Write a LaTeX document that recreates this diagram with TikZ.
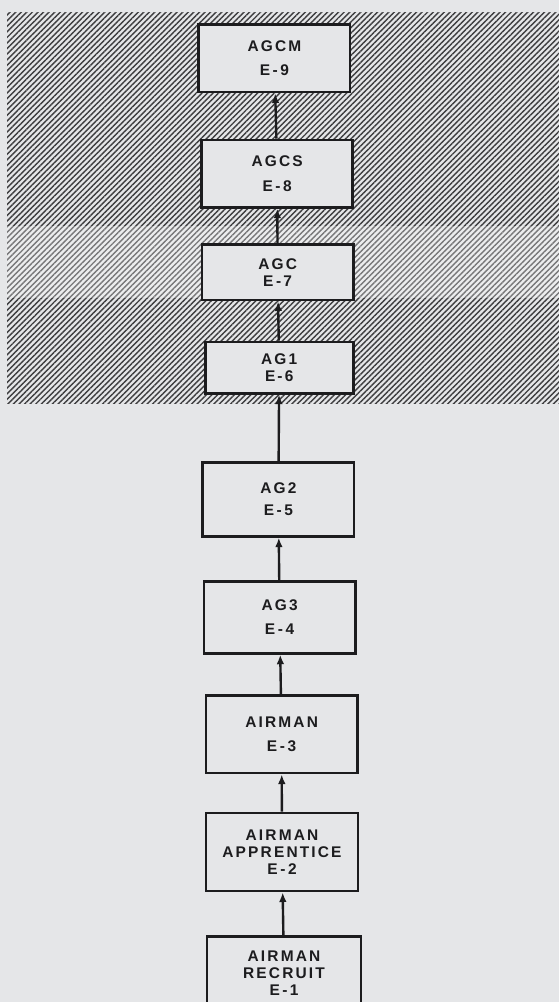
\documentclass[tikz,border=0pt]{standalone}
\usepackage{fontspec}
\newfontfamily\lettering[LetterSpace=14]{Liberation Sans}
\usetikzlibrary{positioning, arrows.meta, patterns.meta}

\definecolor{paper}{RGB}{229,230,232}
\definecolor{ink}{RGB}{28,28,30}

\tikzset{
    rate/.style={draw=ink, line width=2pt, fill=paper, align=center,
        minimum width=3.78cm, minimum height=1.68cm, inner sep=2pt,
        font=\lettering\bfseries\fontsize{11}{12.3}\selectfont, text=ink},
    promo/.style={-{Latex[length=2.4mm, width=1.9mm]}, line width=1.7pt, draw=ink}
}

\begin{document}
\begin{tikzpicture}

    \useasboundingbox (0,0) rectangle (13.975,-25.05);
    \clip (0,0) rectangle (13.975,-25.05);

    % Sheet
    \fill[paper] (0,0) rectangle (13.975,-25.05);

    % Hatched upper part
    \fill[pattern={Lines[angle=45, distance=2.8pt, line width=1pt]},
          pattern color=ink!85] (0.18,-0.30) rectangle (13.975,-10.08);
    \fill[white, opacity=0.3] (0.18,-5.65) rectangle (13.975,-7.45);

    % Rates, top to bottom
    \node[rate] (agcm) at (6.86,-1.46) {AGCM\\[5pt]E\,-\,9};
    \node[rate] (agcs) at (6.93,-4.34) {AGCS\\[5pt]E\,-\,8};
    \node[rate, minimum height=1.38cm] (agc) at (6.94,-6.81) {AGC\\E\,-7};
    \node[rate, minimum width=3.70cm, minimum height=1.28cm] (ag1) at (6.98,-9.19) {AG1\\E-6};
    \node[rate, minimum height=1.85cm] (ag2) at (6.96,-12.48) {AG2\\[4pt]E\,-\,5};
    \node[rate, minimum height=1.80cm] (ag3) at (6.99,-15.43) {AG3\\[5pt]E\,-\,4};
    \node[rate, minimum height=1.93cm] (airman) at (7.04,-18.36) {AIRMAN\\[5pt]E\,-\,3};
    \node[rate, minimum width=3.80cm, minimum height=1.95cm] (apprentice) at (7.05,-21.30)
        {AIRMAN\\APPRENTICE\\E\,-\,2};
    \node[rate, minimum width=3.85cm, minimum height=1.85cm] (recruit) at (7.10,-24.33)
        {AIRMAN\\RECRUIT\\E\,-1};

    % Advancement
    \draw[promo] (recruit) -- (apprentice);
    \draw[promo] (apprentice) -- (airman);
    \draw[promo] (airman) -- (ag3);
    \draw[promo] (ag3) -- (ag2);
    \draw[promo] (ag2) -- (ag1);
    \draw[promo] (ag1) -- (agc);
    \draw[promo] (agc) -- (agcs);
    \draw[promo] (agcs) -- (agcm);

\end{tikzpicture}
\end{document}
